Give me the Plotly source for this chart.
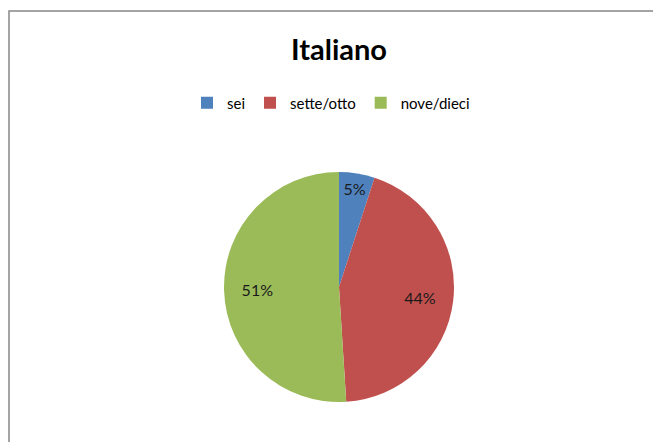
import plotly.graph_objects as go

categories = ["sei", "sette/otto", "nove/dieci"]
values = [5, 44, 51]
colors = ["#4F81BD", "#C0504D", "#9BBB59"]

W, H = 661, 442
OFF = 8  # page body margin
FONT = "Lato, Liberation Sans, sans-serif"

cx, cy, d = 339 - OFF, 287 - OFF, 230
dom = dict(x=[(cx - d / 2) / W, (cx + d / 2) / W],
           y=[1 - (cy + d / 2) / H, 1 - (cy - d / 2) / H])

fig = go.Figure()
fig.add_trace(go.Pie(
    labels=categories,
    values=values,
    marker=dict(colors=colors, line=dict(width=0)),
    sort=False,
    direction="clockwise",
    rotation=0,
    textinfo="none",
    domain=dom,
    hoverinfo="label+percent",
))
# transparent ring used only to place the percentage labels further out
fig.add_trace(go.Pie(
    labels=categories,
    values=values,
    hole=0.42,
    marker=dict(colors=["rgba(0,0,0,0)"] * 3, line=dict(width=0)),
    sort=False,
    direction="clockwise",
    rotation=0,
    textinfo="percent",
    textposition="inside",
    insidetextorientation="horizontal",
    textfont=dict(family=FONT, size=16, color="#1a1a1a"),
    domain=dom,
    showlegend=False,
    hoverinfo="skip",
))

fig.update_layout(
    width=W, height=H,
    margin=dict(l=0, r=0, t=0, b=0),
    paper_bgcolor="white",
    plot_bgcolor="white",
    font=dict(family=FONT, color="#000000"),
    title=dict(text="<b>Italiano</b>", x=(339 - OFF) / W, xanchor="center",
               y=1 - (50 - OFF) / H, yanchor="middle", yref="container",
               font=dict(size=29, family=FONT, color="#000000")),
    legend=dict(orientation="h", x=(331 - OFF) / W, xanchor="center",
                y=1 - (103 - OFF) / H, yanchor="middle",
                font=dict(size=15, family=FONT), traceorder="normal",
                itemclick=False),
    shapes=[dict(type="rect", xref="paper", yref="paper",
                 x0=1 / W, x1=1.05, y0=-0.05, y1=1 - 3 / H,
                 line=dict(color="#868686", width=1.5), fillcolor="rgba(0,0,0,0)",
                 layer="below")],
)

fig.write_html("out.html")
